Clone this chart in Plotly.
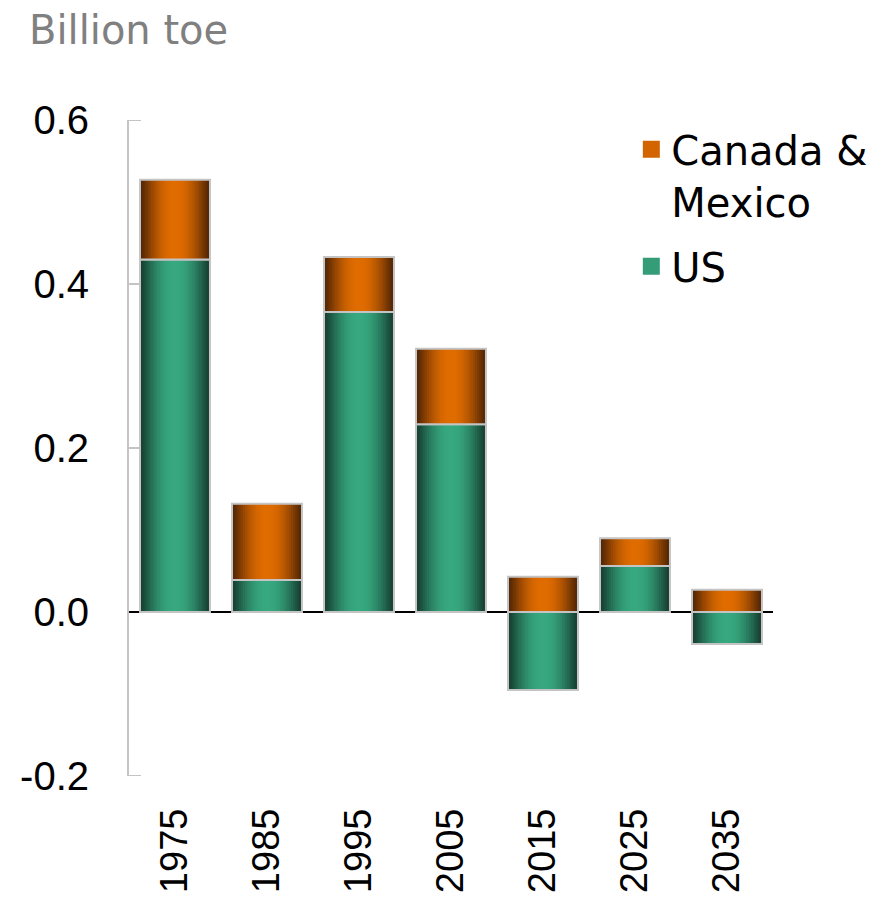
import math
import plotly.graph_objects as go

# ---- data ----
years = ["1975", "1985", "1995", "2005", "2015", "2025", "2035"]
us = [0.430, 0.039, 0.366, 0.229, -0.095, 0.056, -0.039]
can_mex = [0.097, 0.093, 0.067, 0.092, 0.043, 0.034, 0.027]
y_ticks = [-0.2, 0.0, 0.2, 0.4, 0.6]
y_tick_labels = ["-0.2", "0.0", "0.2", "0.4", "0.6"]

# Canada & Mexico segment sits on top of the positive part of the US bar
can_base = [max(u, 0) for u in us]

BAR_W = 0.76
N_LAYERS = 16


def lerp(c1, c2, t):
    return "rgb(%d,%d,%d)" % tuple(round(a + (b - a) * t) for a, b in zip(c1, c2))


series = [
    ("US", us, [0] * len(us), (0x15, 0x3D, 0x2F), (0x37, 0xA8, 0x80), 2, "us"),
    ("Canada &<br>Mexico", can_mex, can_base, (0x50, 0x24, 0x04), (0xE0, 0x6C, 0x00), 1, "cm"),
]

fig = go.Figure()
for name, vals, base, dark, light, rank, grp in series:
    # stacked layers of decreasing width -> horizontal shading (dark edges, bright centre)
    for k in range(N_LAYERS):
        t = k / (N_LAYERS - 1)
        f = math.sin(t * math.pi / 2)
        fig.add_trace(go.Bar(
            x=years, y=vals, base=base,
            width=BAR_W * (1 - k / N_LAYERS),
            marker=dict(color=lerp(dark, light, f), line=dict(width=0)),
            name=name, legendgroup=grp, showlegend=False,
            hoverinfo="skip",
        ))
    # outline
    fig.add_trace(go.Bar(
        x=years, y=vals, base=base, width=BAR_W, legendgroup=grp,
        marker=dict(color="rgba(0,0,0,0)", line=dict(color="#c4c4c4", width=2)),
        showlegend=False, hoverinfo="skip",
    ))
    # legend entry (no marks of its own)
    mid = lerp(dark, light, 0.9)
    fig.add_trace(go.Bar(
        x=[None], y=[None], name=name, legendgroup=grp, legendrank=rank,
        marker=dict(color=mid, line=dict(color=mid, width=5)),
        showlegend=True, hoverinfo="skip",
    ))

# inward-pointing y tick marks on the axis line
tick_shapes = [
    dict(type="line", xref="x domain", yref="y", x0=0, x1=12 / 645, y0=v, y1=v,
         line=dict(color="#c4c4c4", width=2), layer="below")
    for v in y_ticks if v != 0
]

fig.update_layout(
    width=885, height=907,
    barmode="overlay",
    plot_bgcolor="white", paper_bgcolor="white",
    # page body has an 8px margin, so the plot area is placed 8px up/left
    margin=dict(l=121, r=120, t=112, b=139, autoexpand=False),
    font=dict(family="Liberation Sans, Arial, sans-serif", size=38, color="black"),
    legend=dict(
        x=0.780, y=1.005, xanchor="left", yanchor="top",
        font=dict(family="DejaVu Sans", size=40, color="black"),
        traceorder="grouped", tracegroupgap=10, valign="top",
        bgcolor="rgba(0,0,0,0)",
    ),
    xaxis=dict(
        type="category", range=[-0.5, 6.5], tickangle=-90, automargin=False,
        showline=False, ticks="", showgrid=False, zeroline=False,
        tickfont=dict(family="Liberation Sans", size=38),
        ticklabelstandoff=24,
    ),
    yaxis=dict(
        range=[-0.2, 0.6], tickvals=y_ticks, ticktext=y_tick_labels, automargin=False,
        tickmode="array",
        showline=True, linecolor="#c4c4c4", linewidth=2,
        ticks="",
        tickfont=dict(family="Liberation Sans", size=40),
        showgrid=False, zeroline=True, zerolinecolor="black", zerolinewidth=1.5,
        ticklabelstandoff=30,
    ),
    shapes=tick_shapes,
    annotations=[dict(
        text="Billion toe", xref="paper", yref="paper",
        x=-0.158, y=1.137, xanchor="left", yanchor="middle", showarrow=False,
        font=dict(family="DejaVu Sans", size=40, color="#808080"),
    )],
)

fig.write_html("out.html")
